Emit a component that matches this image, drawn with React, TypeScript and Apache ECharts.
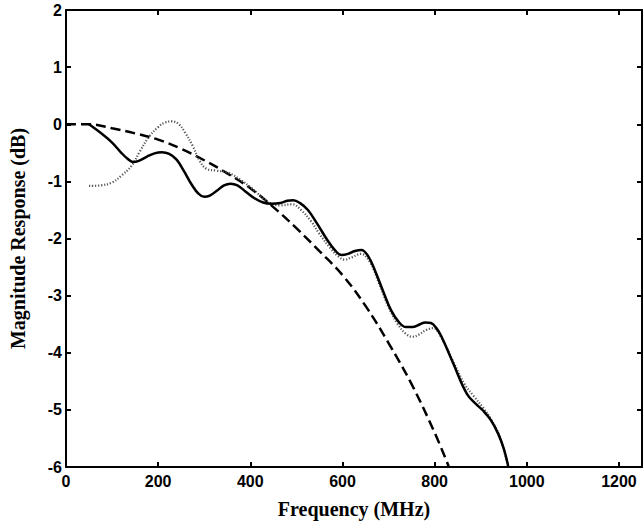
import React, { useEffect, useRef } from "react";
import * as echarts from "echarts";

// Dashed curve (ideal response)
const dashedFreq = [0, 50, 100, 150, 200, 250, 300, 350, 400, 450, 500, 550, 600, 650, 700, 750, 800, 831];
const dashedDb = [0, 0, -0.07, -0.16, -0.27, -0.43, -0.63, -0.86, -1.12, -1.45, -1.82, -2.22, -2.64, -3.18, -3.83, -4.55, -5.4, -6.0];

// Solid curve
const solidFreq = [50, 75, 100, 120, 133, 145, 158, 175, 192, 208, 224, 240, 256, 273, 288, 300, 312, 328, 343, 357, 372, 390, 410, 428, 445, 465, 480, 493, 508, 525, 545, 565, 583, 598, 612, 627, 641, 655, 670, 688, 705, 722, 738, 752, 766, 780, 792, 803, 815, 840, 870, 890, 906, 922, 938, 950, 960];
const solidDb = [0, -0.15, -0.32, -0.5, -0.6, -0.66, -0.64, -0.57, -0.51, -0.49, -0.52, -0.62, -0.82, -1.06, -1.22, -1.27, -1.25, -1.16, -1.07, -1.04, -1.07, -1.18, -1.3, -1.37, -1.39, -1.38, -1.34, -1.33, -1.38, -1.5, -1.74, -2.0, -2.2, -2.29, -2.27, -2.22, -2.2, -2.3, -2.55, -2.92, -3.25, -3.46, -3.55, -3.55, -3.51, -3.47, -3.48, -3.56, -3.72, -4.18, -4.72, -4.9, -5.02, -5.18, -5.42, -5.68, -6.0];

// Dotted curve
const dottedFreq = [50, 75, 100, 120, 143, 160, 180, 200, 215, 230, 245, 258, 275, 290, 305, 325, 352, 380, 400, 420, 440, 465, 490, 510, 532, 550, 575, 592, 605, 620, 640, 660, 680, 700, 720, 738, 752, 766, 782, 797, 815, 840, 865, 885, 905, 922, 940, 950, 960];
const dottedDb = [-1.08, -1.07, -1.02, -0.9, -0.72, -0.48, -0.22, -0.05, 0.03, 0.05, 0.0, -0.14, -0.38, -0.64, -0.78, -0.81, -0.85, -0.98, -1.1, -1.24, -1.37, -1.42, -1.4, -1.5, -1.7, -1.92, -2.18, -2.32, -2.37, -2.33, -2.27, -2.42, -2.8, -3.2, -3.5, -3.67, -3.72, -3.68, -3.6, -3.57, -3.74, -4.15, -4.55, -4.76, -4.96, -5.16, -5.44, -5.7, -6.0];

const xTitle = "Frequency (MHz)";
const yTitle = "Magnitude Response (dB)";

const zip = (xs: number[], ys: number[]) => xs.map((x, i) => [x, ys[i]]);

export default function App() {
  const ref = useRef<HTMLDivElement>(null);
  useEffect(() => {
    if (!ref.current) return;
    const chart = echarts.init(ref.current, null, { renderer: "svg" });
    const tickFont = { fontFamily: "Liberation Sans, Arial, sans-serif", fontWeight: "bold" as const, fontSize: 16, color: "#000" };
    const titleFont = { fontFamily: "Liberation Serif, Times New Roman, serif", fontWeight: "bold" as const, fontSize: 20, color: "#000" };
    const axisLine = { show: true, onZero: false, lineStyle: { color: "#000", width: 2 } };
    const tick = { show: true, inside: true, length: 5, lineStyle: { color: "#000", width: 2 } };
    chart.setOption({
      animation: false,
      backgroundColor: "#fff",
      grid: { left: 64, right: 2, top: 10, bottom: 60, containLabel: false },
      xAxis: [
        {
          type: "value", min: 0, max: 1250, interval: 200, position: "bottom",
          axisLine, axisTick: tick, splitLine: { show: false },
          axisLabel: { ...tickFont, margin: 6, showMaxLabel: false, formatter: (v: number) => String(v) },
          name: xTitle, nameLocation: "middle", nameGap: 32, nameTextStyle: titleFont,
        },
        {
          type: "value", min: 0, max: 1250, interval: 200, position: "top",
          axisLine, axisTick: tick, splitLine: { show: false }, axisLabel: { show: false },
        },
      ],
      yAxis: [
        {
          type: "value", min: -6, max: 2, interval: 1, position: "left",
          axisLine, axisTick: tick, splitLine: { show: false },
          axisLabel: { ...tickFont, margin: 4, formatter: (v: number) => String(v) },
          name: yTitle, nameLocation: "middle", nameGap: 38, nameTextStyle: titleFont,
        },
        {
          type: "value", min: -6, max: 2, interval: 1, position: "right",
          axisLine, axisTick: tick, splitLine: { show: false }, axisLabel: { show: false },
        },
      ],
      series: [
        {
          type: "line", data: zip(dashedFreq, dashedDb), smooth: 0.4, symbol: "none",
          lineStyle: { color: "#000", width: 2.5, type: [10, 5] },
        },
        {
          type: "line", data: zip(dottedFreq, dottedDb), smooth: 0.4, symbol: "none",
          lineStyle: { color: "#555", width: 2.2, type: [1.2, 1.8] },
        },
        {
          type: "line", data: zip(solidFreq, solidDb), smooth: 0.4, symbol: "none",
          lineStyle: { color: "#000", width: 2.5 },
        },
      ],
    });
    return () => chart.dispose();
  }, []);
  return <div ref={ref} style={{ position: "fixed", left: 0, top: 0, width: 644, height: 527 }} />;
}
